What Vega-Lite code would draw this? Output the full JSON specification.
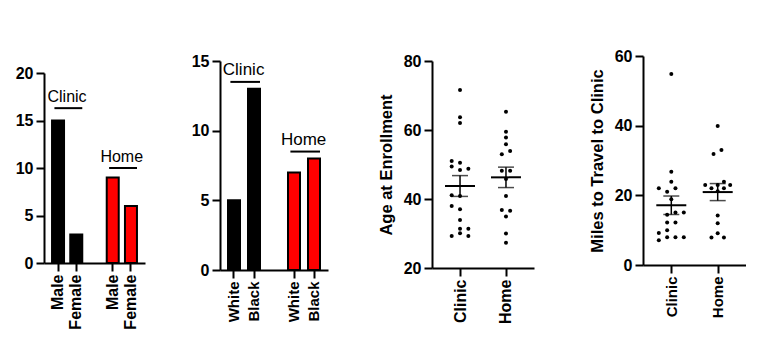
{
  "$schema": "https://vega.github.io/schema/vega-lite/v6.json",
  "padding": {"left": 15, "top": 46, "right": 0, "bottom": 0},
  "config": {
    "view": {"stroke": null},
    "font": "Liberation Sans",
    "axis": {"domainColor": "black", "domainWidth": 2, "tickColor": "black", "tickWidth": 2, "labelColor": "black", "labelFont": "Liberation Sans", "labelFontWeight": "bold", "labelFontSize": 16, "titleFont": "Liberation Sans", "titleFontWeight": "bold", "titleFontSize": 16.5, "titleColor": "black", "grid": false},
    "axisY": {"tickSize": 8, "labelPadding": 3},
    "axisX": {"tickSize": 8, "labelPadding": 3, "labelAngle": -90}
  },
  "datasets": {
    "sex": [
      {"key": "Clinic Male", "group": "Clinic", "count": 15},
      {"key": "Clinic Female", "group": "Clinic", "count": 3},
      {"key": "Home Male", "group": "Home", "count": 9},
      {"key": "Home Female", "group": "Home", "count": 6}
    ],
    "sexAnno": [
      {"group": "Clinic", "from": "Clinic Male", "to": "Clinic Female", "level": 16.3},
      {"group": "Home", "from": "Home Male", "to": "Home Female", "level": 10}
    ],
    "race": [
      {"key": "Clinic White", "group": "Clinic", "count": 5},
      {"key": "Clinic Black", "group": "Clinic", "count": 13},
      {"key": "Home White", "group": "Home", "count": 7},
      {"key": "Home Black", "group": "Home", "count": 8}
    ],
    "raceAnno": [
      {"group": "Clinic", "from": "Clinic White", "to": "Clinic Black", "level": 13.5},
      {"group": "Home", "from": "Home White", "to": "Home Black", "level": 8.5}
    ],
    "age": [
      {"site": "Clinic", "age": 71.6, "lane": 0},
      {"site": "Clinic", "age": 63.7, "lane": 0},
      {"site": "Clinic", "age": 62.0, "lane": 0},
      {"site": "Clinic", "age": 51.0, "lane": -1},
      {"site": "Clinic", "age": 50.5, "lane": 0},
      {"site": "Clinic", "age": 49.4, "lane": -1},
      {"site": "Clinic", "age": 48.4, "lane": 0},
      {"site": "Clinic", "age": 48.8, "lane": 1},
      {"site": "Clinic", "age": 41.1, "lane": -1},
      {"site": "Clinic", "age": 40.9, "lane": 0},
      {"site": "Clinic", "age": 38.0, "lane": -1},
      {"site": "Clinic", "age": 37.0, "lane": 0},
      {"site": "Clinic", "age": 33.9, "lane": 0},
      {"site": "Clinic", "age": 31.4, "lane": 0},
      {"site": "Clinic", "age": 31.4, "lane": 1},
      {"site": "Clinic", "age": 30.1, "lane": 0},
      {"site": "Clinic", "age": 29.3, "lane": 1},
      {"site": "Clinic", "age": 29.3, "lane": -1},
      {"site": "Home", "age": 65.3, "lane": 0},
      {"site": "Home", "age": 59.5, "lane": 0},
      {"site": "Home", "age": 57.8, "lane": 0},
      {"site": "Home", "age": 55.9, "lane": 0},
      {"site": "Home", "age": 53.0, "lane": -0.5},
      {"site": "Home", "age": 53.9, "lane": 0.5},
      {"site": "Home", "age": 48.2, "lane": -0.5},
      {"site": "Home", "age": 48.2, "lane": 0.5},
      {"site": "Home", "age": 45.8, "lane": 0},
      {"site": "Home", "age": 40.9, "lane": 0},
      {"site": "Home", "age": 36.8, "lane": -0.5},
      {"site": "Home", "age": 36.6, "lane": 0.5},
      {"site": "Home", "age": 34.9, "lane": 0},
      {"site": "Home", "age": 30.0, "lane": 0},
      {"site": "Home", "age": 27.3, "lane": 0}
    ],
    "miles": [
      {"site": "Clinic", "miles": 54.8, "lane": 0},
      {"site": "Clinic", "miles": 26.8, "lane": 0},
      {"site": "Clinic", "miles": 23.9, "lane": 0},
      {"site": "Clinic", "miles": 22.0, "lane": -1.5},
      {"site": "Clinic", "miles": 21.0, "lane": -0.5},
      {"site": "Clinic", "miles": 22.0, "lane": 0.5},
      {"site": "Clinic", "miles": 18.9, "lane": 0},
      {"site": "Clinic", "miles": 15.1, "lane": 0.5},
      {"site": "Clinic", "miles": 15.1, "lane": 1.5},
      {"site": "Clinic", "miles": 14.4, "lane": -0.5},
      {"site": "Clinic", "miles": 12.2, "lane": -0.5},
      {"site": "Clinic", "miles": 12.2, "lane": 0.5},
      {"site": "Clinic", "miles": 10.0, "lane": -0.5},
      {"site": "Clinic", "miles": 9.2, "lane": -1.5},
      {"site": "Clinic", "miles": 8.0, "lane": -0.5},
      {"site": "Clinic", "miles": 8.0, "lane": 0.5},
      {"site": "Clinic", "miles": 8.0, "lane": 1.5},
      {"site": "Clinic", "miles": 7.1, "lane": -1.5},
      {"site": "Home", "miles": 39.9, "lane": 0},
      {"site": "Home", "miles": 33.0, "lane": 0.45},
      {"site": "Home", "miles": 31.9, "lane": -0.5},
      {"site": "Home", "miles": 23.0, "lane": -1.5},
      {"site": "Home", "miles": 22.0, "lane": -0.75},
      {"site": "Home", "miles": 23.0, "lane": 0},
      {"site": "Home", "miles": 23.9, "lane": 0.75},
      {"site": "Home", "miles": 22.0, "lane": 0.75},
      {"site": "Home", "miles": 23.0, "lane": 1.5},
      {"site": "Home", "miles": 21.2, "lane": 0},
      {"site": "Home", "miles": 14.2, "lane": 0},
      {"site": "Home", "miles": 12.0, "lane": 0},
      {"site": "Home", "miles": 9.1, "lane": 0},
      {"site": "Home", "miles": 7.9, "lane": -0.75},
      {"site": "Home", "miles": 7.9, "lane": 0.75}
    ]
  },
  "spacing": 50,
  "hconcat": [
    {
      "spacing": 46,
      "hconcat": [
        {
          "spacing": 0,
          "bounds": "flush",
          "vconcat": [
            {"width": 1, "height": 27, "data": {"values": []}, "mark": {"type": "point", "opacity": 0}, "encoding": {}},
            {
              "width": 101,
              "height": 190,
              "layer": [
                {
                  "data": {"name": "sex"},
                  "mark": {"type": "bar", "stroke": "black", "strokeWidth": 2, "width": 12},
                  "encoding": {
                    "x": {"field": "key", "type": "nominal", "title": null,
                      "scale": {"type": "band", "domain": ["Clinic Male", "Clinic Female", "gap", "Home Male", "Home Female"], "paddingInner": 0.34, "paddingOuter": 0.44},
                      "axis": {"values": ["Clinic Male", "Clinic Female", "Home Male", "Home Female"], "labelExpr": "split(datum.value, ' ')[1]"}},
                    "y": {"field": "count", "type": "quantitative", "title": null, "scale": {"domain": [0, 20], "nice": false}, "axis": {"values": [0, 5, 10, 15, 20]}},
                    "fill": {"field": "group", "type": "nominal", "scale": {"domain": ["Clinic", "Home"], "range": ["black", "#ff0000"]}, "legend": null}
                  }
                },
                {
                  "data": {"name": "sexAnno"},
                  "mark": {"type": "rule", "strokeWidth": 2, "color": "black"},
                  "encoding": {
                    "x": {"field": "from", "type": "nominal", "bandPosition": 0.2},
                    "x2": {"field": "to", "bandPosition": 1.0},
                    "y": {"field": "level", "type": "quantitative"}
                  }
                },
                {
                  "data": {"name": "sexAnno"},
                  "mark": {"type": "text", "baseline": "bottom", "dy": -3, "fontSize": 16, "font": "Liberation Sans", "color": "black"},
                  "encoding": {
                    "x": {"field": "from", "type": "nominal", "bandPosition": 1.25},
                    "y": {"field": "level", "type": "quantitative"},
                    "text": {"field": "group"}
                  }
                }
              ]
            }
          ]
        },
        {
          "spacing": 0,
          "bounds": "flush",
          "vconcat": [
            {"width": 1, "height": 15, "data": {"values": []}, "mark": {"type": "point", "opacity": 0}, "encoding": {}},
            {
              "width": 108,
              "height": 209,
              "layer": [
                {
                  "data": {"name": "race"},
                  "mark": {"type": "bar", "stroke": "black", "strokeWidth": 2, "width": 12},
                  "encoding": {
                    "x": {"field": "key", "type": "nominal", "title": null,
                      "scale": {"type": "band", "domain": ["Clinic White", "Clinic Black", "gap", "Home White", "Home Black"], "paddingInner": 0.4, "paddingOuter": 0.4},
                      "axis": {"values": ["Clinic White", "Clinic Black", "Home White", "Home Black"], "labelExpr": "split(datum.value, ' ')[1]", "labelFontSize": 15}},
                    "y": {"field": "count", "type": "quantitative", "title": null, "scale": {"domain": [0, 15], "nice": false}, "axis": {"values": [0, 5, 10, 15]}},
                    "fill": {"field": "group", "type": "nominal", "scale": {"domain": ["Clinic", "Home"], "range": ["black", "#ff0000"]}, "legend": null}
                  }
                },
                {
                  "data": {"name": "raceAnno"},
                  "mark": {"type": "rule", "strokeWidth": 2, "color": "black"},
                  "encoding": {
                    "x": {"field": "from", "type": "nominal", "bandPosition": 0.2},
                    "x2": {"field": "to", "bandPosition": 1.0},
                    "y": {"field": "level", "type": "quantitative"}
                  }
                },
                {
                  "data": {"name": "raceAnno"},
                  "mark": {"type": "text", "baseline": "bottom", "dy": -3, "fontSize": 17, "font": "Liberation Sans", "color": "black"},
                  "encoding": {
                    "x": {"field": "from", "type": "nominal", "bandPosition": 1.3},
                    "y": {"field": "level", "type": "quantitative"},
                    "text": {"field": "group"}
                  }
                }
              ]
            }
          ]
        }
      ]
    },
    {
      "spacing": 55,
      "hconcat": [
        {
          "spacing": 0,
          "bounds": "flush",
          "vconcat": [
            {"width": 1, "height": 15, "data": {"values": []}, "mark": {"type": "point", "opacity": 0}, "encoding": {}},
            {
              "width": 102,
              "height": 207,
              "data": {"name": "age"},
              "encoding": {
                "x": {"field": "site", "type": "nominal", "title": null, "scale": {"type": "point", "domain": ["Clinic", "Home"], "padding": 0.61}}
              },
              "layer": [
                {
                  "mark": {"type": "circle", "size": 16, "color": "black", "opacity": 1},
                  "encoding": {
                    "y": {"field": "age", "type": "quantitative", "title": "Age at Enrollment", "scale": {"domain": [20, 80], "nice": false}, "axis": {"values": [20, 40, 60, 80], "titlePadding": 9}},
                    "xOffset": {"field": "lane", "type": "quantitative", "scale": {"domain": [-1, 1], "range": [-8.33, 8.33], "zero": false, "nice": false}}
                  }
                },
                {
                  "mark": {"type": "tick", "size": 30, "thickness": 2, "color": "black"},
                  "encoding": {"y": {"field": "age", "aggregate": "mean", "type": "quantitative", "title": "Age at Enrollment"}}
                },
                {
                  "mark": {"type": "errorbar", "extent": "stderr", "ticks": {"size": 16, "thickness": 1.5, "color": "black"}, "rule": {"strokeWidth": 1.5, "color": "black"}},
                  "encoding": {"y": {"field": "age", "type": "quantitative", "title": "Age at Enrollment"}}
                }
              ]
            }
          ]
        },
        {
          "spacing": 0,
          "bounds": "flush",
          "vconcat": [
            {"width": 1, "height": 10, "data": {"values": []}, "mark": {"type": "point", "opacity": 0}, "encoding": {}},
            {
              "width": 103,
              "height": 209,
              "data": {"name": "miles"},
              "encoding": {
                "x": {"field": "site", "type": "nominal", "title": null, "scale": {"type": "point", "domain": ["Clinic", "Home"], "padding": 0.61}, "axis": {"labelFontSize": 15}}
              },
              "layer": [
                {
                  "mark": {"type": "circle", "size": 16, "color": "black", "opacity": 1},
                  "encoding": {
                    "y": {"field": "miles", "type": "quantitative", "title": "Miles to Travel to Clinic", "scale": {"domain": [0, 60], "nice": false}, "axis": {"values": [0, 20, 40, 60], "titlePadding": 9}},
                    "xOffset": {"field": "lane", "type": "quantitative", "scale": {"domain": [-1, 1], "range": [-8.33, 8.33], "zero": false, "nice": false}}
                  }
                },
                {
                  "mark": {"type": "tick", "size": 30, "thickness": 2, "color": "black"},
                  "encoding": {"y": {"field": "miles", "aggregate": "mean", "type": "quantitative", "title": "Miles to Travel to Clinic"}}
                },
                {
                  "mark": {"type": "errorbar", "extent": "stderr", "ticks": {"size": 16, "thickness": 1.5, "color": "black"}, "rule": {"strokeWidth": 1.5, "color": "black"}},
                  "encoding": {"y": {"field": "miles", "type": "quantitative", "title": "Miles to Travel to Clinic"}}
                }
              ]
            }
          ]
        }
      ]
    }
  ]
}
